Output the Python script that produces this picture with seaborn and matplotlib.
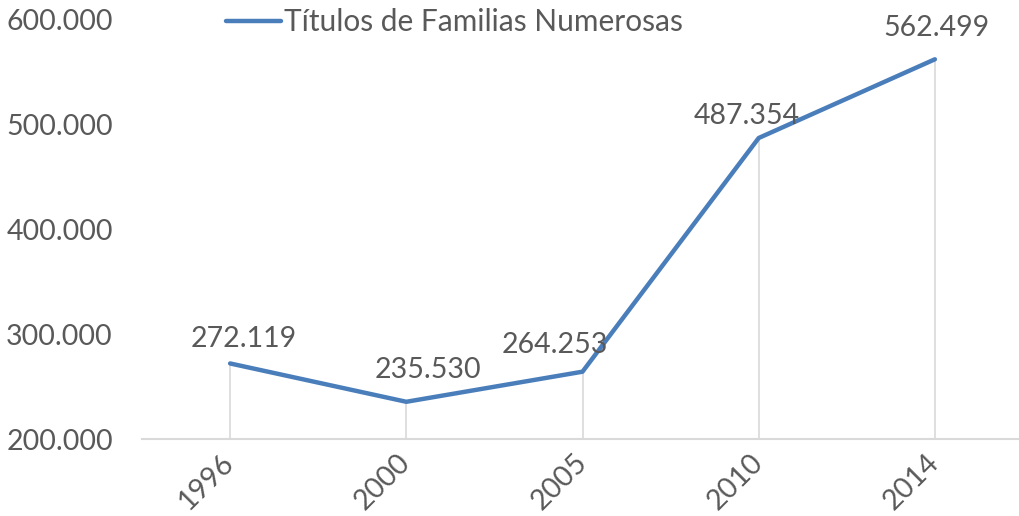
import pandas as pd
import seaborn as sns
import matplotlib.pyplot as plt

years = ["1996", "2000", "2005", "2010", "2014"]
titulos = [272119, 235530, 264253, 487354, 562499]
labels = ["272.119", "235.530", "264.253", "487.354", "562.499"]
y_ticks = [200000, 300000, 400000, 500000, 600000]
y_tick_labels = ["200.000", "300.000", "400.000", "500.000", "600.000"]

# label offsets in pixels (manually placed in the original)
label_offsets = [(14, 24), (22, 32), (-28, 27), (-12, 22), (2, 31)]

sns.set_theme(style="white")
plt.rcParams["font.family"] = ["Lato", "DejaVu Sans"]
gray = "#595959"
blue = "#4A7EBB"

df = pd.DataFrame({"year": years, "value": titulos})

fig = plt.figure(figsize=(10.19, 5.16), dpi=100)
ax = fig.add_axes([142 / 1019, 77 / 516, 881 / 1019, 419 / 516])

pos = list(range(len(years)))
ax.vlines(pos, y_ticks[0], titulos, color="#D9D9D9", lw=1.2, zorder=1)
sns.lineplot(data=df, x="year", y="value", ax=ax, color=blue, lw=3.2,
             label="Títulos de Familias Numerosas", zorder=3, sort=False)

for i, (v, t) in enumerate(zip(titulos, labels)):
    dx, dy = label_offsets[i]
    ax.annotate(t, (i, v), xytext=(dx, dy), textcoords="offset pixels",
                ha="center", va="center", fontsize=20.5, color=gray)

ax.set_xlim(-0.5, 4.5)
ax.set_ylim(y_ticks[0], y_ticks[-1])
ax.set_yticks(y_ticks)
ax.set_yticklabels(y_tick_labels, fontsize=20.5, color=gray)
ax.set_xticks(pos)
ax.set_xticklabels(years, fontsize=20.5, color=gray, rotation=45,
                   ha="right", va="center", rotation_mode="anchor")
ax.tick_params(axis="x", length=0, pad=14)
ax.tick_params(axis="y", length=0, pad=21)
ax.set_xlabel("")
ax.set_ylabel("")
for s in ["top", "right", "left"]:
    ax.spines[s].set_visible(False)
ax.spines["bottom"].set_color("#D9D9D9")
ax.spines["bottom"].set_linewidth(1.5)
ax.grid(False)

leg = ax.legend(loc="center left", bbox_to_anchor=(226 / 1019, 1 - 22 / 516),
                bbox_transform=fig.transFigure, frameon=False, fontsize=21.5,
                handlelength=1.85, handletextpad=0.1, borderpad=0, borderaxespad=0)
for t in leg.get_texts():
    t.set_color(gray)

fig.savefig("out.png", dpi=100)
